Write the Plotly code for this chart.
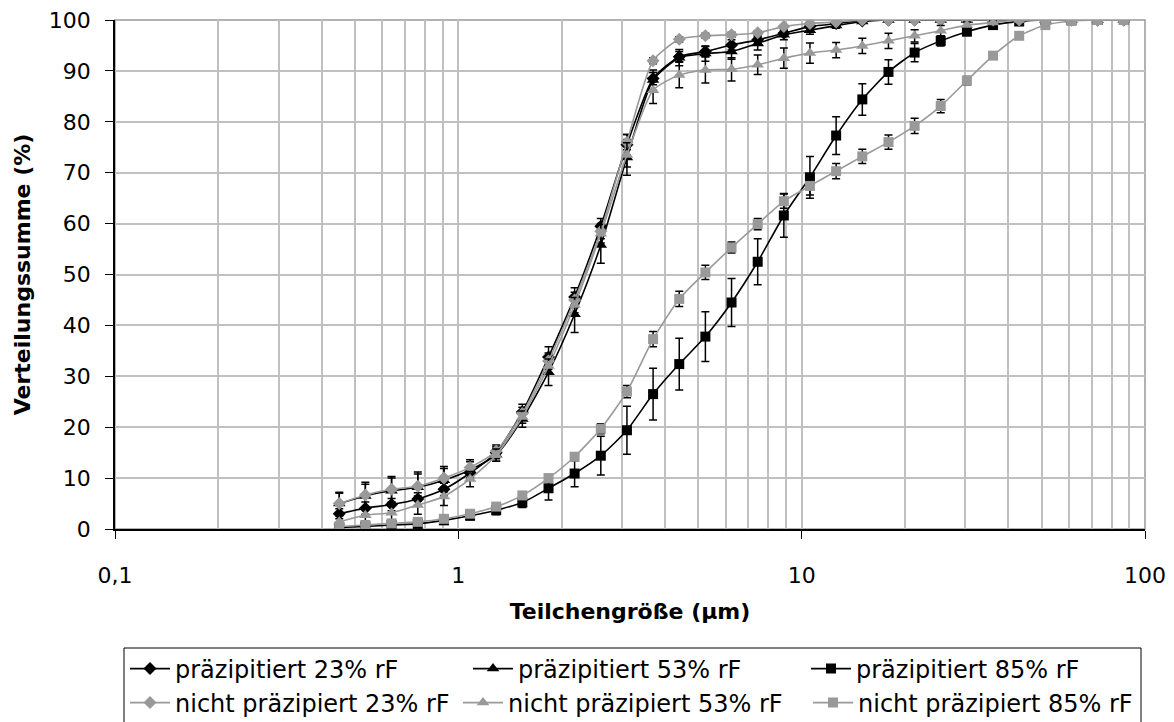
import plotly.graph_objects as go

# particle size classes (µm)
size_um = [0.450, 0.536, 0.639, 0.762, 0.908, 1.082, 1.289, 1.536, 1.831, 2.181,
           2.600, 3.098, 3.692, 4.400, 5.243, 6.248, 7.446, 8.873, 10.57, 12.60,
           15.02, 17.90, 21.33, 25.41, 30.29, 36.09, 43.01, 51.26, 61.08, 72.79, 86.75]

names = ["präzipitiert 23% rF", "präzipitiert 53% rF", "präzipitiert 85% rF",
         "nicht präzipiert 23% rF", "nicht präzipiert 53% rF", "nicht präzipiert 85% rF"]

p23 = [3.0, 4.1, 4.8, 5.9, 7.8, 11.0, 15.0, 23.0, 33.8, 45.6, 59.5, 75.5, 88.5, 92.8, 93.8,
       95.1, 96.1, 97.4, 98.7, 99.3, 99.8, 100, 100, 100, 100, 100, 100, 100, 100, 100, 100]
p23_err = [1.0, 1.2, 1.2, 1.2, 1.2, 1.2, 1.2, 1.5, 2.0, 1.8, 1.5, 2.0, 1.2, 1.0, 1.0,
           1.0, 0.8, 0.6, 0.4, 0.3, 0.2, 0, 0, 0, 0, 0, 0, 0, 0, 0, 0]

p53 = [5.0, 6.5, 7.5, 8.2, 9.6, 11.6, 14.6, 21.6, 30.8, 42.2, 55.8, 73.0, 88.2, 92.6, 93.4,
       93.8, 95.4, 97.1, 98.0, 98.9, 99.7, 100, 100, 100, 100, 100, 100, 100, 100, 100, 100]
p53_err = [2.0, 2.3, 2.5, 2.6, 2.3, 1.6, 1.3, 1.6, 2.6, 3.6, 3.6, 3.5, 2.0, 1.6, 1.5,
           1.5, 1.3, 1.0, 0.8, 0.5, 0.3, 0, 0, 0, 0, 0, 0, 0, 0, 0, 0]

p85 = [0.3, 0.5, 0.8, 1.0, 1.7, 2.6, 3.7, 5.2, 8.0, 10.9, 14.4, 19.4, 26.5, 32.4, 37.8,
       44.5, 52.5, 61.6, 69.1, 77.3, 84.4, 89.8, 93.6, 95.9, 97.7, 99.0, 99.7, 100, 100, 100, 100]
p85_err = [0.3, 0.3, 0.4, 0.5, 0.6, 0.8, 0.9, 1.0, 2.3, 2.6, 3.8, 4.7, 5.1, 5.1, 4.9,
           4.7, 4.5, 4.3, 4.1, 3.7, 3.1, 2.4, 1.8, 1.0, 0.6, 0.3, 0.2, 0, 0, 0, 0]

n23 = [5.0, 6.7, 7.8, 8.4, 10.0, 12.1, 15.3, 22.7, 33.0, 45.0, 58.5, 76.0, 92.0, 96.2, 96.9,
       97.1, 97.5, 98.7, 99.3, 99.6, 100, 100, 100, 100, 100, 100, 100, 100, 100, 100, 100]
n23_err = [2.2, 2.5, 2.5, 2.8, 2.3, 1.5, 1.2, 1.2, 1.6, 1.5, 1.5, 1.5, 0.6, 0.5, 0.5,
           0.5, 0.4, 0.3, 0.2, 0.1, 0, 0, 0, 0, 0, 0, 0, 0, 0, 0, 0]

n53 = [1.4, 2.7, 3.2, 4.7, 6.4, 9.8, 14.5, 22.0, 32.0, 44.0, 58.0, 73.5, 86.2, 89.2, 90.2,
       90.3, 91.2, 92.5, 93.5, 94.1, 94.9, 95.9, 96.9, 97.9, 99.0, 99.5, 100, 100, 100, 100, 100]
n53_err = [1.2, 1.4, 1.6, 1.8, 1.8, 1.5, 1.2, 1.2, 1.4, 1.5, 1.8, 2.4, 2.6, 2.5, 2.6,
           2.3, 1.9, 2.0, 2.0, 1.5, 1.5, 1.5, 1.2, 1.0, 0.6, 0.3, 0, 0, 0, 0, 0]

n85 = [0.5, 0.8, 1.1, 1.4, 2.0, 3.0, 4.4, 6.6, 10.0, 14.2, 19.7, 27.0, 37.3, 45.2, 50.4,
       55.3, 59.9, 64.4, 67.4, 70.3, 73.2, 76.0, 79.2, 83.1, 88.1, 93.0, 96.9, 99.0, 99.8, 100, 100]
n85_err = [0.3, 0.3, 0.3, 0.4, 0.4, 0.4, 0.5, 0.6, 0.7, 0.8, 1.0, 1.2, 1.5, 1.5, 1.4,
           1.1, 1.1, 1.4, 1.8, 1.5, 1.4, 1.4, 1.5, 1.3, 0.8, 0.5, 0.3, 0, 0, 0, 0]

series = [p23, p53, p85, n23, n53, n85]
errors = [p23_err, p53_err, p85_err, n23_err, n53_err, n85_err]
colors = ["#000000", "#000000", "#000000", "#999999", "#999999", "#999999"]
symbols = ["diamond", "triangle-up", "square", "diamond", "triangle-up", "square"]

# figure geometry (px)
W, H = 1174, 722
ML, MR, MT, MB = 115, 29, 20, 193
PW, PH = W - ML - MR, H - MT - MB


def px_x(x):
    return (x - ML) / PW


def px_y(y):
    return (H - MB - y) / PH


# legend entry anchor positions (symbol start x, row centre y) in px
legend_pos = [(129, 669), (472, 669), (810, 669),
              (129, 703), (462, 703), (812, 703)]

fig = go.Figure()
legend_layouts = {}
for k, (name, ys, err, col, sym) in enumerate(zip(names, series, errors, colors, symbols)):
    lid = "legend" if k == 0 else f"legend{k + 1}"
    fig.add_trace(go.Scatter(
        x=size_um, y=ys, name=name, mode="lines+markers", legend=lid,
        line=dict(color=col, width=1.6, shape="spline", smoothing=0.6),
        marker=dict(symbol=sym, size=10 if sym != "triangle-up" else 11, color=col,
                    line=dict(width=0)),
        error_y=dict(type="data", array=err, visible=True, color="#000000",
                     thickness=1.5, width=4),
    ))
    lx, ly = legend_pos[k]
    legend_layouts[lid] = dict(
        x=px_x(lx - 4), xanchor="left", y=px_y(ly), yanchor="middle",
        bgcolor="rgba(0,0,0,0)", borderwidth=0, font=dict(size=24),
        itemwidth=40,
    )

minor_vals = [m * 10 ** e for e in (-1, 0, 1) for m in range(2, 10)]

fig.update_layout(
    width=W, height=H,
    paper_bgcolor="white", plot_bgcolor="white",
    separators=", ",
    margin=dict(l=ML, r=MR, t=MT, b=MB, autoexpand=False),
    font=dict(family="DejaVu Sans, Verdana, sans-serif", color="#000000", size=20),
    showlegend=True,
    shapes=[
        dict(type="rect", xref="paper", yref="paper", x0=0, x1=1, y0=0, y1=1,
             line=dict(color="#999999", width=1.5), layer="below"),
        # legend frame
        dict(type="rect", xref="paper", yref="paper",
             x0=px_x(124), x1=px_x(1141), y0=px_y(648), y1=px_y(740),
             line=dict(color="#000000", width=1), fillcolor="rgba(0,0,0,0)"),
    ],
    **legend_layouts,
)
fig.update_xaxes(
    type="log", range=[-1, 2], tickvals=[0.1, 1, 10, 100], ticktext=["0,1", "1", "10", "100"],
    showgrid=True, gridcolor="#c0c0c0", gridwidth=1.5,
    minor=dict(tickvals=minor_vals, showgrid=True, gridcolor="#c0c0c0", gridwidth=1.5, ticklen=0),
    showline=True, linecolor="#000000", linewidth=1.5,
    ticks="outside", ticklen=8, tickcolor="#000000", tickfont=dict(size=22),
    ticklabelstandoff=18,
    title=dict(text="<b>Teilchengröße (µm)</b>", font=dict(size=22), standoff=16),
    zeroline=False, automargin=False,
)
fig.update_yaxes(
    range=[0, 100], dtick=10, showgrid=True, gridcolor="#c0c0c0", gridwidth=1.5,
    showline=True, linecolor="#000000", linewidth=1.5,
    ticks="outside", ticklen=8, tickcolor="#000000", tickfont=dict(size=22),
    ticklabelstandoff=10,
    title=dict(text="<b>Verteilungssumme (%)</b>", font=dict(size=22), standoff=12),
    zeroline=False, automargin=False,
)

fig.write_html("out.html", config={"displayModeBar": False},
               post_script="document.body.style.margin='0px';")
